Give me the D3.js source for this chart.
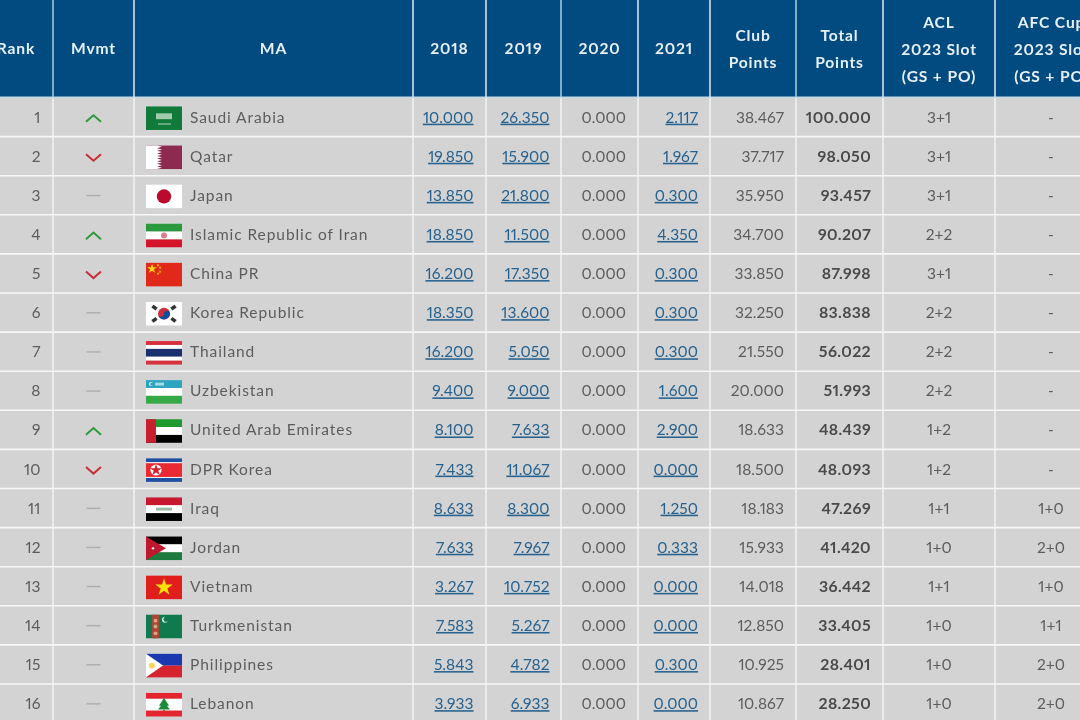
<!DOCTYPE html>
<html><head><meta charset="utf-8">
<script src="https://cdnjs.cloudflare.com/ajax/libs/d3/7.8.5/d3.min.js"></script>
<style>
html,body{margin:0;padding:0;background:#fff;overflow:hidden}
svg{display:block;filter:blur(.3px)}
text{font-family:Lato,"Open Sans",sans-serif;font-feature-settings:"pnum" 1;font-variant-numeric:proportional-nums}
</style></head><body><div id="c"></div>
<script>
const ranks=[1,2,3,4,5,6,7,8,9,10,11,12,13,14,15,16];
const movement=["up","down","same","up","down","same","same","same","up","down","same","same","same","same","same","same"];
const names=["Saudi Arabia","Qatar","Japan","Islamic Republic of Iran","China PR","Korea Republic","Thailand","Uzbekistan","United Arab Emirates","DPR Korea","Iraq","Jordan","Vietnam","Turkmenistan","Philippines","Lebanon"];
const flagCodes=["sa","qa","jp","ir","cn","kr","th","uz","ae","kp","iq","jo","vn","tm","ph","lb"];
const y2018=[10.000,19.850,13.850,18.850,16.200,18.350,16.200,9.400,8.100,7.433,8.633,7.633,3.267,7.583,5.843,3.933];
const y2019=[26.350,15.900,21.800,11.500,17.350,13.600,5.050,9.000,7.633,11.067,8.300,7.967,10.752,5.267,4.782,6.933];
const y2020=[0,0,0,0,0,0,0,0,0,0,0,0,0,0,0,0];
const y2021=[2.117,1.967,0.300,4.350,0.300,0.300,0.300,1.600,2.900,0.000,1.250,0.333,0.000,0.000,0.300,0.000];
const clubPoints=[38.467,37.717,35.950,34.700,33.850,32.250,21.550,20.000,18.633,18.500,18.183,15.933,14.018,12.850,10.925,10.867];
const totalPoints=[100.000,98.050,93.457,90.207,87.998,83.838,56.022,51.993,48.439,48.093,47.269,41.420,36.442,33.405,28.401,28.250];
const aclSlots=["3+1","3+1","3+1","2+2","3+1","2+2","2+2","2+2","1+2","1+2","1+1","1+0","1+1","1+0","1+0","1+0"];
const cupSlots=["-","-","-","-","-","-","-","-","-","-","1+0","2+0","1+0","1+1","2+0","2+0"];
const headers=[["Rank"],["Mvmt"],["MA"],["2018"],["2019"],["2020"],["2021"],["Club","Points"],["Total","Points"],["ACL","2023 Slot","(GS + PO)"],["AFC Cup","2023 Slot","(GS + PO)"]];
const columnEdges=[-21,53,134,413,486,561,638,710,796,883,995,1108];

const W=1080,H=720;
const svg=d3.select("#c").append("svg").attr("width",W).attr("height",H);
const y=d3.scaleBand().domain(ranks).range([97.5,723.1]).padding(0);
const fmt=d3.format(".3f");
const head="#024b80", rowBg="#d3d3d3", txt="#5d5d5d", link="#27628f";

svg.append("rect").attr("width",W).attr("height",H).attr("fill","#fff");
svg.append("rect").attr("y",0).attr("width",W).attr("height",97).attr("fill",head);
svg.append("rect").attr("y",97).attr("width",W).attr("height",H-97).attr("fill",rowBg);
svg.append("rect").attr("y",96.5).attr("width",W).attr("height",2).attr("fill","#c6dbe3");

// horizontal separators
svg.selectAll("line.h").data(ranks).join("line")
 .attr("x1",0).attr("x2",W).attr("y1",d=>y(d)+y.bandwidth()).attr("y2",d=>y(d)+y.bandwidth())
 .attr("stroke","#f7f7f7").attr("stroke-width",1.6);
// vertical separators
const inner=columnEdges.slice(1,-1);
svg.selectAll("line.v").data(inner).join("line")
 .attr("x1",d=>d).attr("x2",d=>d).attr("y1",98).attr("y2",H)
 .attr("stroke","#f3f3f3").attr("stroke-width",1.5);
svg.selectAll("line.vh").data(inner).join("line")
 .attr("x1",d=>d).attr("x2",d=>d).attr("y1",0).attr("y2",97)
 .attr("stroke",(d,i)=>[0,4,7].includes(i)?"#a9cfe2":"#dfeaf0").attr("stroke-width",1.5);

// header
const colCenter=i=>(columnEdges[i]+columnEdges[i+1])/2;
const hg=svg.append("g").attr("fill","#e8f0f5").attr("font-weight",700).attr("font-size",15.6).attr("letter-spacing",.85).attr("text-anchor","middle");
headers.forEach((lines,i)=>{
  const lh=27;
  const start=(lines.length===1?49:lines.length===2?35.5:22.2)+5.4;
  lines.forEach((s,j)=>hg.append("text").attr("x",colCenter(i)).attr("y",start+j*lh).text(s));
});

const rows=svg.selectAll("g.row").data(ranks).join("g").attr("class","row")
  .attr("transform",d=>`translate(0,${y(d)+y.bandwidth()/2})`);
const cell=(x,anchor,f,opts={})=>rows.append("text").attr("x",x).attr("y",5.6)
  .attr("text-anchor",anchor).attr("fill",opts.fill||txt).attr("font-size",opts.size||15.5)
  .attr("font-weight",opts.weight||400).attr("letter-spacing",opts.ls==null?.05:opts.ls)
  .attr("text-decoration",opts.ul?"underline":null).text((d,i)=>f(i));

cell(40.5,"end",i=>ranks[i]);
cell(190,"start",i=>names[i],{ls:.93});
cell(473.5,"end",i=>fmt(y2018[i]),{fill:link,ul:true});
cell(549.5,"end",i=>fmt(y2019[i]),{fill:link,ul:true});
cell(626,"end",i=>fmt(y2020[i]));
cell(698,"end",i=>fmt(y2021[i]),{fill:link,ul:true});
cell(784,"end",i=>fmt(clubPoints[i]));
cell(871,"end",i=>fmt(totalPoints[i]),{weight:700,fill:"#4a4a4a",ls:.35,size:15.8});
cell(939,"middle",i=>aclSlots[i]);
cell(1051,"middle",i=>cupSlots[i]);

// movement glyphs
rows.each(function(d,i){
  const g=d3.select(this), m=movement[i], cx=93.5;
  if(m==="same") g.append("path").attr("d",`M${cx-7},0.3H${cx+7}`).attr("stroke","#adadad").attr("stroke-width",1.4);
  else{
    const s=m==="up"?1:-1, off=1.4;
    g.append("path").attr("d",`M${cx-7.5},${off+s*3.4}L${cx},${off-s*3.2}L${cx+7.5},${off+s*3.4}`).attr("fill","none")
      .attr("stroke",m==="up"?"#2f9a3a":"#c5303a").attr("stroke-width",2);
  }
});

// flags (36 x 24 local units)
const rect=(g,x,y0,w,h,c)=>g.append("rect").attr("x",x).attr("y",y0).attr("width",w).attr("height",h).attr("fill",c);
const stripes=(g,list)=>{const t=list.reduce((a,b)=>a+b[0],0);let p=0;list.forEach(([n,c])=>{rect(g,0,p*24/t,36,n*24/t,c);p+=n;});};
const poly=(g,d,c)=>g.append("path").attr("d",d).attr("fill",c);
const circ=(g,x,y0,r,c)=>g.append("circle").attr("cx",x).attr("cy",y0).attr("r",r).attr("fill",c);
const star=(g,x,y0,size,c)=>g.append("path").attr("transform",`translate(${x},${y0})`).attr("d",d3.symbol(d3.symbolStar,size)()).attr("fill",c);
const flags={
 sa:g=>{rect(g,0,0,36,24,"#0f7a3a");rect(g,10,7,16,6,"#9fcbaf");rect(g,12,17.5,13,.8,"#e8f2ea");},
 qa:g=>{rect(g,0,0,36,24,"#8c2a4f");rect(g,0,0,11,24,"#fff");let d="M11,0";for(let i=0;i<9;i++){d+=`L16,${(i+.5)*24/9}L11,${(i+1)*24/9}`;}poly(g,d+"Z","#fff");},
 jp:g=>{rect(g,0,0,36,24,"#fff");circ(g,18,12,7.2,"#bc0a2f");},
 ir:g=>{stripes(g,[[1,"#2b9a3f"],[1,"#fff"],[1,"#d3142b"]]);circ(g,18,12,3,"#d8808a");},
 cn:g=>{rect(g,0,0,36,24,"#e0281b");star(g,6,6,30,"#fbd90a");[[12,2.5],[14,5],[14,9],[12,11]].forEach(p=>star(g,p[0],p[1],3,"#fbd90a"));},
 kr:g=>{rect(g,0,0,36,24,"#fff");circ(g,18,12,6,"#cd2e3a");poly(g,"M12,12A6,6 0 0 0 24,12A3,3 0 0 0 18,12A3,3 0 0 1 12,12Z","#0f4c9c");
   [[-1,-1],[1,-1],[-1,1],[1,1]].forEach(([a,b])=>g.append("rect").attr("x",-2.6).attr("y",-1.8).attr("width",5.2).attr("height",3.6).attr("fill","#333").attr("transform",`translate(${18+a*9.5},${12+b*6.3}) rotate(${a*b*35})`));},
 th:g=>stripes(g,[[1,"#d5303c"],[1,"#fff"],[2,"#1c2f6e"],[1,"#fff"],[1,"#d5303c"]]),
 uz:g=>{stripes(g,[[8,"#2ea5c0"],[8,"#fff"],[8,"#35a946"]]);circ(g,5,4,2,"#fff");circ(g,5.8,4,1.7,"#2ea5c0");rect(g,9,2.5,9,3,"#a8dbe6");},
 ae:g=>{stripes(g,[[1,"#1e9a2e"],[1,"#fff"],[1,"#000"]]);rect(g,0,0,10,24,"#c8202e");},
 kp:g=>{stripes(g,[[4,"#1f4fa0"],[1,"#fff"],[14,"#ea2a33"],[1,"#fff"],[4,"#1f4fa0"]]);circ(g,10,12,5.6,"#fff");star(g,10,12,44,"#d8202a");},
 iq:g=>{stripes(g,[[1,"#c8182f"],[1,"#fff"],[1,"#000"]]);rect(g,10,10.4,16,3,"#9dbfa5");},
 jo:g=>{stripes(g,[[1,"#000"],[1,"#fff"],[1,"#1e7a3e"]]);poly(g,"M0,0L20,12L0,24Z","#c0182e");circ(g,7,12,1.2,"#fff");},
 vn:g=>{rect(g,0,0,36,24,"#e01e1c");star(g,18,12,95,"#fde20a");},
 tm:g=>{rect(g,0,0,36,24,"#0e7a4e");rect(g,6,0,7,24,"#a9473a");circ(g,9.5,6,2,"#e0a080");circ(g,9.5,12,2,"#c0b080");circ(g,9.5,19,2,"#e0a080");circ(g,19,5,3,"#dfeee6");circ(g,20.2,4.5,2.6,"#0e7a4e");},
 ph:g=>{stripes(g,[[1,"#1a38b0"],[1,"#d5232f"]]);poly(g,"M0,0L17,12L0,24Z","#fff");circ(g,6,12,3,"#f5d55a");},
 lb:g=>{stripes(g,[[1,"#e3262f"],[2,"#fff"],[1,"#e3262f"]]);poly(g,"M18,5L23,13L21,13L24,17H12L15,13L13,13Z","#1e8a3c");rect(g,17.3,17,1.4,2,"#7a5a2a");}
};
rows.append("g").attr("transform",`translate(146,-10.6) scale(1,.98)`).each(function(d,i){flags[flagCodes[i]](d3.select(this));});
</script></body></html>
